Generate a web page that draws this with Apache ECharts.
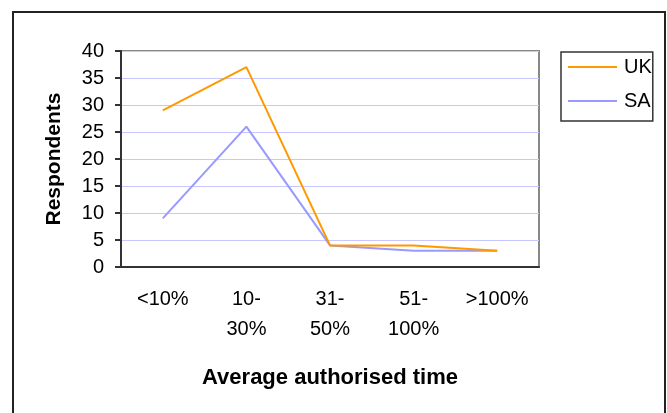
<!DOCTYPE html>
<html><head><meta charset="utf-8">
<script src="https://cdn.jsdelivr.net/npm/echarts@6/dist/echarts.min.js"></script>
<style>html,body{margin:0;padding:0;background:#fff}#c{width:667px;height:413px}</style>
</head><body><div id="c"></div>
<script>
const categories = ["<10%", "10-\n30%", "31-\n50%", "51-\n100%", ">100%"];
const ukValues = [29, 37, 4, 4, 3];
const saValues = [9, 26, 4, 3, 3];
const yTicks = [0, 5, 10, 15, 20, 25, 30, 35, 40];

const font = "'Liberation Sans', Arial, sans-serif";
const chart = echarts.init(document.getElementById('c'), null, {renderer: 'canvas'});
chart.setOption({
  animation: false,
  backgroundColor: '#fff',
  textStyle: {fontFamily: font},
  graphic: [{
    type: 'rect', z: 0,
    shape: {x: 13, y: 12, width: 652, height: 420},
    style: {fill: 'none', stroke: '#222', lineWidth: 2}
  }],
  grid: {left: 121, top: 51, width: 418, height: 216, show: true, borderColor: '#888', borderWidth: 2, backgroundColor: 'transparent'},
  legend: {
    orient: 'vertical', left: 561, top: 52,
    padding: [5, 1, 10, 7], itemGap: 14,
    borderColor: '#333', borderWidth: 1.5,
    itemWidth: 49, itemHeight: 2, icon: 'rect',
    textStyle: {fontFamily: font, fontSize: 20, color: '#000', padding: [0,0,0,2]},
    data: ['UK', 'SA']
  },
  xAxis: {
    type: 'category', data: categories, boundaryGap: true,
    axisLine: {lineStyle: {color: '#333', width: 2}},
    axisTick: {length: 5, lineStyle: {color: '#333', width: 2}},
    axisLabel: {fontFamily: font, fontSize: 20, color: '#000', margin: 17, lineHeight: 30, interval: 0},
    name: 'Average authorised time', nameLocation: 'middle', nameGap: 100,
    nameTextStyle: {fontFamily: font, fontSize: 22, fontWeight: 'bold', color: '#000'}
  },
  yAxis: {
    type: 'value', min: 0, max: 40, interval: 5,
    axisLine: {show: true, lineStyle: {color: '#333', width: 2}},
    axisTick: {show: true, length: 6, lineStyle: {color: '#333', width: 2}},
    axisLabel: {fontFamily: font, fontSize: 20, color: '#000', margin: 17,
      formatter: v => yTicks.includes(v) ? String(v) : ''},
    splitLine: {show: true, lineStyle: {color: '#c8c8ff', width: 1}},
    name: 'Respondents', nameLocation: 'middle', nameRotate: 90, nameGap: 56,
    nameTextStyle: {fontFamily: font, fontSize: 21, fontWeight: 'bold', color: '#000'}
  },
  series: [
    {name: 'UK', type: 'line', data: ukValues, showSymbol: false, symbol: 'none', lineStyle: {color: '#ff9900', width: 2}, itemStyle: {color: '#ff9900'}, z: 3},
    {name: 'SA', type: 'line', data: saValues, showSymbol: false, symbol: 'none', lineStyle: {color: '#9999ff', width: 2}, itemStyle: {color: '#9999ff'}, z: 2}
  ]
});
</script></body></html>
